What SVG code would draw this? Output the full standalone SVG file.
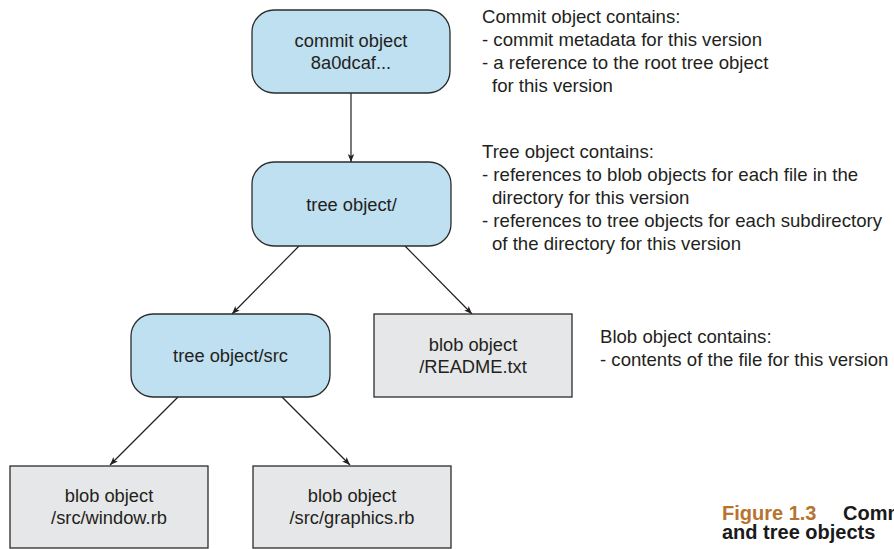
<svg xmlns="http://www.w3.org/2000/svg" width="894" height="549" viewBox="0 0 894 549">
  <defs>
    <style>
      .tree { fill: #bfe0f0; stroke: #2b2b2b; stroke-width: 1.3; }
      .blob { fill: #e6e7e8; stroke: #2b2b2b; stroke-width: 1.3; }
      .lbl { font-family: "Liberation Sans", Arial, sans-serif; font-size: 18.3px; fill: #231f20; text-anchor: middle; }
      .note { font-family: "Liberation Sans", Arial, sans-serif; font-size: 18.6px; fill: #231f20; }
      .edge { stroke: #231f20; stroke-width: 1.2; fill: none; marker-end: url(#arrow); }
      .cap { font-family: "Liberation Sans", Arial, sans-serif; font-size: 20px; font-weight: bold; }
    </style>
    <marker id="arrow" viewBox="0 0 10 10" refX="10" refY="5" markerWidth="10" markerHeight="8" markerUnits="userSpaceOnUse" orient="auto">
      <path d="M0,1 L10,5 L0,9 L2.5,5 Z" fill="#231f20"/>
    </marker>
  </defs>

  <!-- connectors -->
  <g id="connectors">
    <line class="edge" x1="351" y1="93" x2="351" y2="162"/>
    <line class="edge" x1="299" y1="246" x2="232" y2="314"/>
    <line class="edge" x1="405" y1="246" x2="472" y2="314"/>
    <line class="edge" x1="178" y1="397" x2="110" y2="465"/>
    <line class="edge" x1="282" y1="397" x2="350" y2="465"/>
  </g>

  <g id="commit">
    <rect class="tree" x="252" y="10" width="198" height="83" rx="22" ry="22"/>
    <text class="lbl" x="351" y="46.5">commit object</text>
    <text class="lbl" x="351" y="68.5">8a0dcaf...</text>
  </g>

  <g id="tree-root">
    <rect class="tree" x="252" y="162" width="199" height="84" rx="22" ry="22"/>
    <text class="lbl" x="351.5" y="210.5">tree object/</text>
  </g>

  <g id="tree-src">
    <rect class="tree" x="131" y="314" width="199" height="83" rx="22" ry="22"/>
    <text class="lbl" x="230.5" y="362">tree object/src</text>
  </g>

  <g id="blob-readme">
    <rect class="blob" x="374" y="314" width="198" height="83"/>
    <text class="lbl" x="473" y="350.5">blob object</text>
    <text class="lbl" x="473" y="372.5">/README.txt</text>
  </g>

  <g id="blob-window">
    <rect class="blob" x="10" y="466" width="198" height="82"/>
    <text class="lbl" x="109" y="502">blob object</text>
    <text class="lbl" x="109" y="524">/src/window.rb</text>
  </g>

  <g id="blob-graphics">
    <rect class="blob" x="253" y="466" width="198" height="82"/>
    <text class="lbl" x="352" y="502">blob object</text>
    <text class="lbl" x="352" y="524">/src/graphics.rb</text>
  </g>

  <!-- side notes -->
  <g id="note-commit" class="note">
    <text x="482" y="23">Commit object contains:</text>
    <text x="482" y="46">- commit metadata for this version</text>
    <text x="482" y="69">- a reference to the root tree object</text>
    <text x="492" y="92">for this version</text>
  </g>

  <g id="note-tree" class="note">
    <text x="482" y="158">Tree object contains:</text>
    <text x="482" y="181">- references to blob objects for each file in the</text>
    <text x="492" y="204">directory for this version</text>
    <text x="482" y="227">- references to tree objects for each subdirectory</text>
    <text x="492" y="250">of the directory for this version</text>
  </g>

  <g id="note-blob" class="note">
    <text x="600" y="343">Blob object contains:</text>
    <text x="600" y="366">- contents of the file for this version</text>
  </g>

  <!-- caption -->
  <g id="caption" class="cap">
    <text x="722" y="520"><tspan fill="#b8732f">Figure 1.3</tspan><tspan x="843" fill="#1a1a1a">Comm</tspan></text>
    <text x="722" y="539" fill="#1a1a1a">and tree objects</text>
  </g>
</svg>
